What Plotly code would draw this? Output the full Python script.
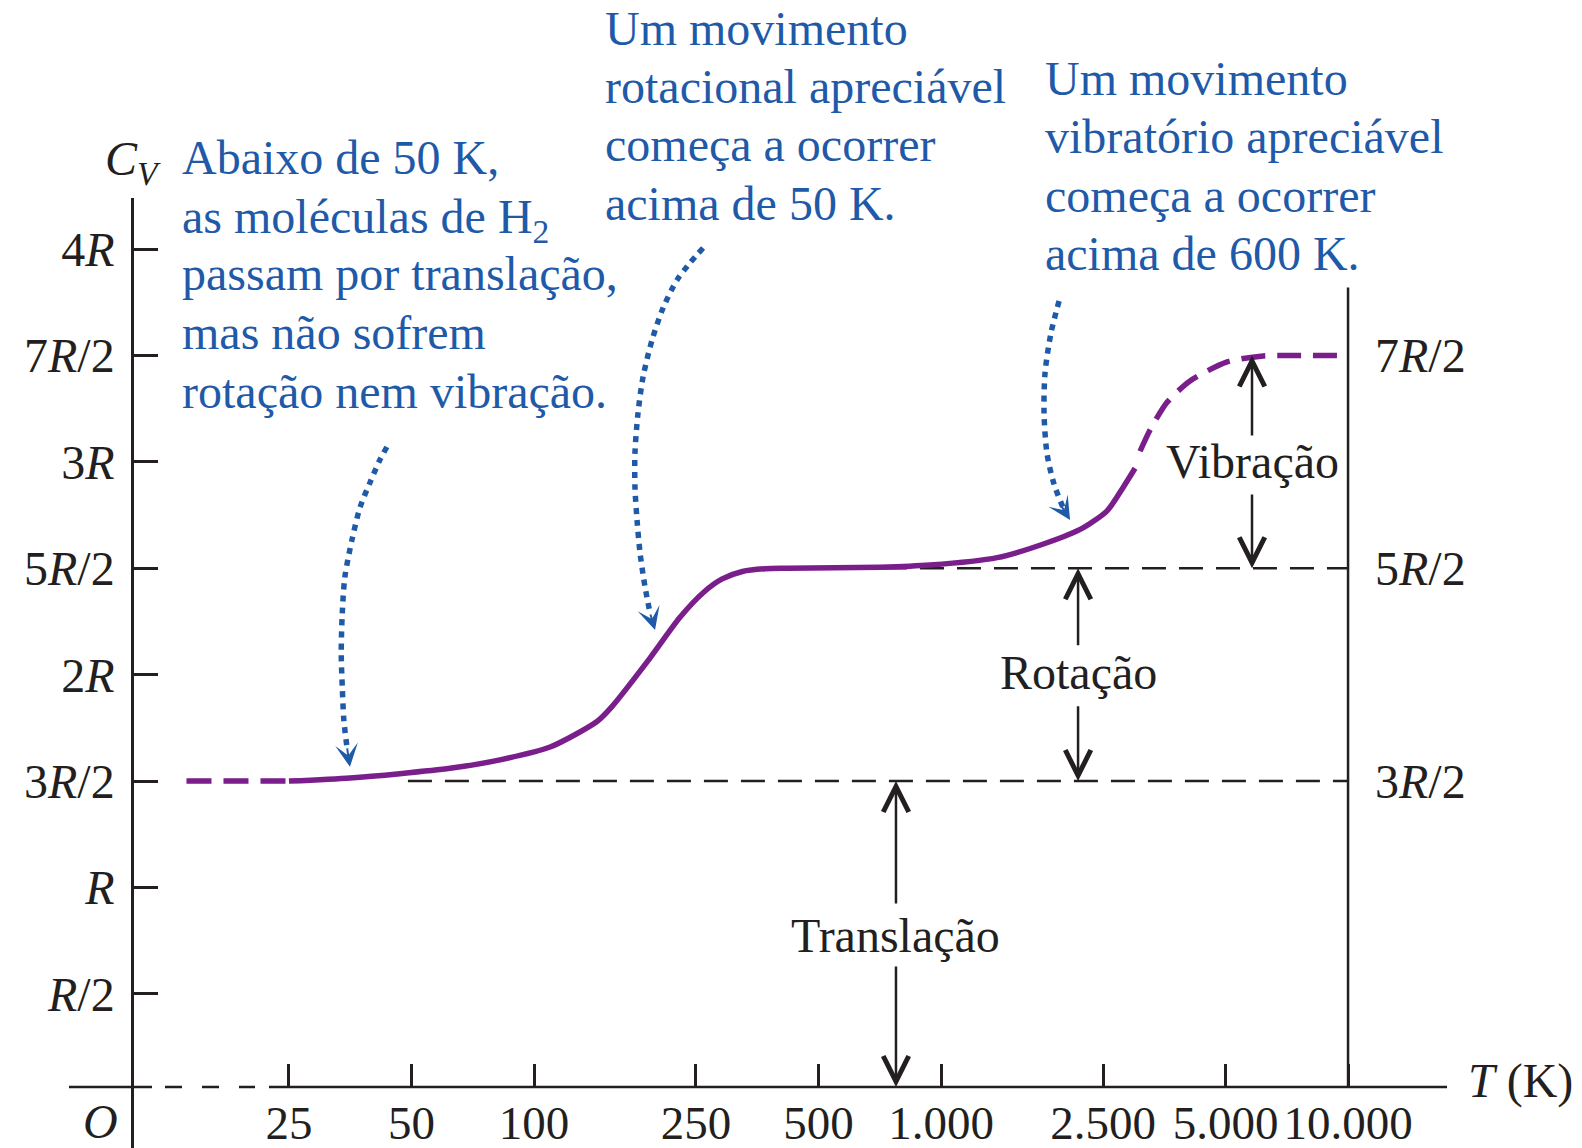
import plotly.graph_objects as go
import math

# ---------------- data (T in K, Cv in units of R) ----------------
T_low = [14, 25]
Cv_low = [1.5, 1.5]

T_main = [25, 35.3, 46.8, 62.2, 82.5, 109.5, 142.8, 155.4, 189.6, 228.4,
          262, 290, 325, 370, 420, 708, 940, 1374, 1821, 2233, 2558, 2801, 2997]
Cv_main = [1.5, 1.515, 1.535, 1.56, 1.60, 1.66, 1.78, 1.85, 2.06, 2.27,
           2.39, 2.45, 2.485, 2.498, 2.50, 2.505, 2.515, 2.55, 2.62, 2.69, 2.77, 2.88, 2.97]

T_high = [3083, 3262, 3592, 4090, 5044, 6185, 7620, 10000]
Cv_high = [3.05, 3.15, 3.28, 3.38, 3.47, 3.498, 3.5, 3.5]

X_TICKS = [25, 50, 100, 250, 500, 1000, 2500, 5000, 10000]
X_LABELS = ["25", "50", "100", "250", "500", "1.000", "2.500", "5.000", "10.000"]
Y_TICKS = [0.5, 1, 1.5, 2, 2.5, 3, 3.5, 4]
Y_LABELS = ["<i>R</i>/2", "<i>R</i>", "3<i>R</i>/2", "2<i>R</i>", "5<i>R</i>/2",
            "3<i>R</i>", "7<i>R</i>/2", "4<i>R</i>"]
Y2_TICKS = [1.5, 2.5, 3.5]
Y2_LABELS = ["3<i>R</i>/2", "5<i>R</i>/2", "7<i>R</i>/2"]

# reference levels
LEVEL_TRANS = 1.5
LEVEL_ROT = 2.5
LEVEL_VIB = 3.5
AXIS_LEVEL = 0.0625
T_line_trans = [49, 10000]
T_line_rot = [720, 10000]
T_right = 10000
RIGHT_TOP = 3.82

# pointer curves (T, Cv) for blue dotted arrows
P1_T = [43.5, 41.8, 39.5, 37.4, 35.7, 34.3, 33.8, 33.6, 33.8, 34.1, 34.7]
P1_C = [3.070, 3.009, 2.901, 2.788, 2.633, 2.459, 2.290, 2.102, 1.942, 1.787, 1.661]
P1_tip = (35.3, 1.567)
P2_T = [260.2, 241.7, 224.6, 207.5, 195.0, 185.3, 180.1, 177.0, 177.0, 179.1, 182.2, 187.4, 192.8]
P2_C = [4.005, 3.935, 3.855, 3.723, 3.573, 3.399, 3.230, 3.042, 2.882, 2.727, 2.572, 2.412, 2.290]
P2_tip = (198.3, 2.210)
P3_T = [1950, 1863, 1801, 1791, 1822, 1895, 2005]
P3_C = [3.756, 3.606, 3.418, 3.225, 3.037, 2.896, 2.774]
P3_tip = (2075, 2.727)

# labelled double arrows: (T, label, label level, upper tip, upper tail, lower tail, lower tip)
ARROWS = [
    (775, "Translação", 0.774, LEVEL_TRANS, 0.918, 0.636, AXIS_LEVEL),
    (2171, "Rotação", 2.010, LEVEL_ROT, 2.131, 1.859, LEVEL_TRANS),
    (5808, "Vibração", 3.004, LEVEL_VIB, 3.117, 2.854, LEVEL_ROT),
]

BLOCK1 = ["Abaixo de 50 K,", "as moléculas de H<sub>2</sub>", "passam por translação,",
          "mas não sofrem", "rotação nem vibração."]
BLOCK2 = ["Um movimento", "rotacional apreciável", "começa a ocorrer", "acima de 50 K."]
BLOCK3 = ["Um movimento", "vibratório apreciável", "começa a ocorrer", "acima de 600 K."]

# ---------------- styling / layout ----------------
BLACK = "#231f20"
PURPLE = "#7a1e8c"
BLUE = "#1f5aa9"
FONT = "Liberation Serif"
OFF = 8                       # page body margin
W, H = 1574, 1140
ML, MR, MT, MB = 126, 230, 190, 0
XR = [1.0172, 4.0097]
YR = [-0.224, 4.240]


def pxx(xp):
    return (xp - OFF - ML) / (W - ML - MR)


def pyy(yp):
    return (H - MB - (yp - OFF)) / (H - MT - MB)


fig = go.Figure()

# dashed reference levels
for ts, lev in [(T_line_trans, LEVEL_TRANS), (T_line_rot, LEVEL_ROT)]:
    fig.add_trace(go.Scatter(x=ts, y=[lev, lev], mode="lines",
                             line=dict(color=BLACK, width=2.5, dash="24px,13px"),
                             hoverinfo="skip"))

# right vertical line (on y2 so the right axis is drawn)
fig.add_trace(go.Scatter(x=[T_right, T_right], y=[AXIS_LEVEL, RIGHT_TOP], mode="lines",
                         line=dict(color=BLACK, width=2.5), yaxis="y2", hoverinfo="skip"))

# Cv curve
fig.add_trace(go.Scatter(x=T_low, y=Cv_low, mode="lines",
                         line=dict(color=PURPLE, width=5.5, dash="25px,12px"), hoverinfo="skip"))
fig.add_trace(go.Scatter(x=T_main, y=Cv_main, mode="lines",
                         line=dict(color=PURPLE, width=5.5, shape="spline", smoothing=0.7),
                         hoverinfo="skip"))
fig.add_trace(go.Scatter(x=T_high, y=Cv_high, mode="lines",
                         line=dict(color=PURPLE, width=5.5, dash="24px,12px",
                                   shape="spline", smoothing=0.7), hoverinfo="skip"))

# blue dotted pointers
for pt, pc in [(P1_T, P1_C), (P2_T, P2_C), (P3_T, P3_C)]:
    fig.add_trace(go.Scatter(x=pt, y=pc, mode="lines",
                             line=dict(color=BLUE, width=5.5, dash="6px,6px",
                                       shape="spline", smoothing=0.8), hoverinfo="skip"))

annotations = []
# blue arrow heads
for tip, (axp, ayp) in [(P1_tip, (-3, -20)), (P2_tip, (-5, -17)), (P3_tip, (-10, -16))]:
    annotations.append(dict(x=math.log10(tip[0]), y=tip[1], xref="x", yref="y", text="",
                            showarrow=True, ax=axp, ay=ayp, arrowhead=3, arrowsize=1.9,
                            arrowwidth=2, arrowcolor=BLUE, standoff=0, startstandoff=0))

# black labelled arrows
for t, lab, ylab, up_tip, up_tail, lo_tail, lo_tip in ARROWS:
    lx = math.log10(t)
    for tip, tail in [(up_tip, up_tail), (lo_tip, lo_tail)]:
        annotations.append(dict(x=lx, y=tip, ax=lx, ay=tail, xref="x", yref="y",
                                axref="x", ayref="y", text="", showarrow=True,
                                arrowhead=5, arrowsize=2, arrowwidth=2.5, arrowcolor=BLACK,
                                standoff=0, startstandoff=0))
    annotations.append(dict(x=lx, y=ylab, xref="x", yref="y", text=lab, showarrow=False,
                            xanchor="center", yanchor="middle",
                            font=dict(family=FONT, size=48, color=BLACK)))

# blue text blocks (one annotation per line)
for lines, x0, y0 in [(BLOCK1, 180, 157), (BLOCK2, 603, 28), (BLOCK3, 1043, 78)]:
    for i, s in enumerate(lines):
        yc = y0 + i * 58.5 + (5 if "<sub>" in s else 0)
        annotations.append(dict(x=pxx(x0), y=pyy(yc), xref="paper", yref="paper", text=s,
                                showarrow=False, xanchor="left", yanchor="middle",
                                font=dict(family=FONT, size=48, color=BLUE)))

# axis titles / origin
annotations.append(dict(x=pxx(163), y=pyy(162), xref="paper", yref="paper",
                        text="<i>C</i><sub><i>V</i></sub>", showarrow=False,
                        xanchor="right", yanchor="middle",
                        font=dict(family=FONT, size=48, color=BLACK)))
annotations.append(dict(x=pxx(100), y=pyy(1121), xref="paper", yref="paper",
                        text="<i>O</i>", showarrow=False, xanchor="center", yanchor="middle",
                        font=dict(family=FONT, size=48, color=BLACK)))
annotations.append(dict(x=pxx(1466), y=pyy(1081), xref="paper", yref="paper",
                        text="<i>T</i> (K)", showarrow=False, xanchor="left", yanchor="middle",
                        font=dict(family=FONT, size=48, color=BLACK)))

# x-axis line with the dashed stretch near the origin
ya = pyy(1087)
shapes = [
    dict(type="line", xref="paper", yref="paper", x0=pxx(69), x1=pxx(152), y0=ya, y1=ya,
         line=dict(color=BLACK, width=2.5)),
    dict(type="line", xref="paper", yref="paper", x0=pxx(165), x1=pxx(255), y0=ya, y1=ya,
         line=dict(color=BLACK, width=2.5, dash="17px,20px")),
    dict(type="line", xref="paper", yref="paper", x0=pxx(269), x1=pxx(1447), y0=ya, y1=ya,
         line=dict(color=BLACK, width=2.5)),
]

fig.update_layout(
    width=W, height=H,
    margin=dict(l=ML, r=MR, t=MT, b=MB, pad=0),
    paper_bgcolor="white", plot_bgcolor="white",
    showlegend=False, hovermode=False,
    font=dict(family=FONT, color=BLACK, size=48),
    xaxis=dict(type="log", range=XR, anchor="free", position=ya,
               showline=False, showgrid=False, zeroline=False,
               ticks="inside", ticklen=23, tickwidth=2.5, tickcolor=BLACK,
               tickvals=X_TICKS, ticktext=X_LABELS,
               tickfont=dict(family=FONT, size=47, color=BLACK), ticklabelstandoff=4),
    yaxis=dict(range=YR, showline=True, linewidth=2.5, linecolor=BLACK,
               showgrid=False, zeroline=False,
               ticks="inside", ticklen=24, tickwidth=2.5, tickcolor=BLACK,
               tickvals=Y_TICKS, ticktext=Y_LABELS,
               tickfont=dict(family=FONT, size=48, color=BLACK), ticklabelstandoff=7),
    yaxis2=dict(range=YR, overlaying="y", side="right", anchor="x",
                showline=False, showgrid=False, zeroline=False, ticks="",
                tickvals=Y2_TICKS, ticktext=Y2_LABELS,
                tickfont=dict(family=FONT, size=48, color=BLACK), ticklabelstandoff=22),
    annotations=annotations,
    shapes=shapes,
)

fig.write_html("out.html", config={"displayModeBar": False})
